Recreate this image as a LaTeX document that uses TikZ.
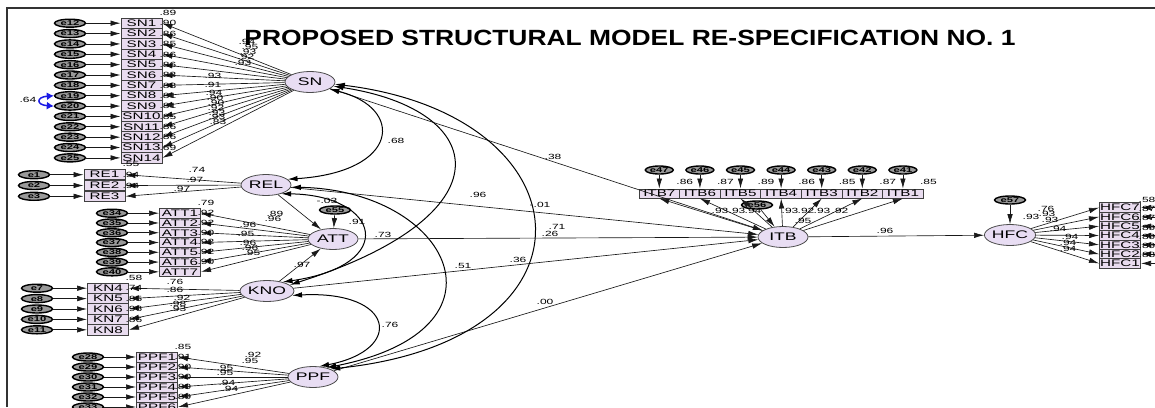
\documentclass[tikz,border=0pt]{standalone}
\usepackage{fontspec}
\setmainfont{Liberation Sans}
\newfontfamily\amosfont[FakeStretch=1.6]{Liberation Sans}
\newfontfamily\titlefont[FakeStretch=1.2]{Liberation Sans}
\usepackage{tikz}
\usetikzlibrary{arrows.meta,positioning,shapes.geometric}
\definecolor{boxfill}{HTML}{E9DCEF}
\definecolor{latfill}{HTML}{E8DDF3}
\definecolor{covblue}{HTML}{1A1AE6}

\begin{document}
\begin{tikzpicture}[x=1pt,y=-1pt,>={Latex[length=10pt,width=5.5pt]},
 ind/.style={draw=black!75,line width=1pt,fill=boxfill,minimum width=41pt,minimum height=10.4pt,inner sep=0pt,font=\amosfont\fontsize{9.5}{9.5}\selectfont},
 lat/.style={ellipse,draw=black!70,line width=0.8pt,fill=latfill,minimum width=50pt,minimum height=21pt,inner sep=0pt,font=\amosfont\fontsize{11}{11}\selectfont},
 err/.style={ellipse,draw=black,line width=1.4pt,fill=black!40,minimum width=31pt,minimum height=8pt,inner sep=0pt,font=\amosfont\bfseries\fontsize{7}{7}\selectfont},
 reg/.style={->,line width=0.65pt,black!90},
 cov/.style={<->,line width=1pt},
 val/.style={font=\amosfont\fontsize{7.5}{7.5}\selectfont,inner sep=0pt}]
\useasboundingbox (0,0) rectangle (1155,407);
\fill[white] (0,0) rectangle (1155,407);
% frame and title
\draw[line width=1.3pt,black!80] (7,407) -- (7,8) -- (1155,8);
\node[font=\titlefont\bfseries\fontsize{22}{22}\selectfont] (title) at (630,38) {PROPOSED STRUCTURAL MODEL RE-SPECIFICATION NO. 1};

% latent variables
\node[lat] (SN) at (310,82) {SN};
\node[lat] (REL) at (266,185) {REL};
\node[lat] (ATT) at (333,239) {ATT};
\node[lat] (KNO) at (267,291) {KNO};
\node[lat] (PPF) at (313,377) {PPF};
\node[lat] (ITB) at (783,237) {ITB};
\node[lat] (HFC) at (1010,235) {HFC};
\node[err] (e55) at (335,210) {e55};
\node[err] (e56) at (757,205) {e56};
\node[err] (e57) at (1010,200) {e57};

% SN indicators
\foreach \i/\e/\l/\r/\lx/\ly in {1/12/.94/.89/247/42,2/13/.95/.90/250/47,3/14/.93/.86/248/52,4/15/.92/.85/246/57,5/16/.93/.86/243/63,6/17/.93/.86/213/76,7/18/.91/.83/213/85,8/19/.94/.88/214/93,9/20/.90/.81/215/98,10/21/.90/.81/216/103,11/22/.92/.85/216/108,12/23/.93/.86/217/113,13/24/.93/.86/217/117,14/25/.83/.69/218/122}{
 \pgfmathsetmacro{\yy}{23.2+(\i-1)*10.36}
 \node[ind] (sn\i) at (141.5,\yy) {SN\i};
 \node[err] (e\e) at (70,\yy) {e\e};
 \draw[reg] (e\e) -- (sn\i);
 \draw[reg] (SN) -- (sn\i.east);
 \node[val] (lsn\i) at (\lx,\ly) {\l};
 \node[val] (rsn\i) at (168,{\yy-10.2}) {\r};
}
\draw[covblue,line width=1.5pt,{Latex[length=7pt,width=8pt]}-{Latex[length=7pt,width=8pt]}] (e19.west) .. controls (36,97) and (36,105) .. (e20.west);
\node[val] (c1920) at (28,100) {.64};

% REL indicators
\foreach \i/\l/\r/\lx/\ly in {1/.74/.55/197/170,2/.97/.94/195/180,3/.97/.94/182/189}{
 \pgfmathsetmacro{\yy}{174.7+(\i-1)*10.8}
 \node[ind] (re\i) at (104.5,\yy) {RE\i};
 \node[err] (e\i) at (34,\yy) {e\i};
 \draw[reg] (e\i) -- (re\i);
 \draw[reg] (REL) -- (re\i.east);
 \node[val] (lre\i) at (\lx,\ly) {\l};
 \node[val] (rre\i) at (131,{\yy-10.4}) {\r};
}

% ATT indicators
\foreach \i/\e/\l/\r/\lx/\ly in {1/34/.89/.79/275/214,2/35/.96/.92/273/219,3/36/.96/.92/248/225,4/37/.95/.90/246/234,5/38/.96/.92/248/243,6/39/.96/.92/250/248,7/40/.95/.90/252/253}{
 \pgfmathsetmacro{\yy}{213.2+(\i-1)*9.77}
 \node[ind,minimum height=9.8pt] (att\i) at (180,\yy) {ATT\i};
 \node[err] (e\e) at (112,\yy) {e\e};
 \draw[reg] (e\e) -- (att\i);
 \draw[reg] (ATT) -- (att\i.east);
 \node[val] (latt\i) at (\lx,\ly) {\l};
 \node[val] (ratt\i) at (206,{\yy-10}) {\r};
}

% KNO indicators
\foreach \i/\e/\l/\r/\lx/\ly in {4/7/.76/.58/175/282,5/8/.86/.74/175/290,6/9/.92/.85/182/298,7/10/.98/.96/178/304,8/11/.93/.86/178/309}{
 \pgfmathsetmacro{\yy}{288.2+(\i-4)*10.4}
 \node[ind] (kn\i) at (108,\yy) {KN\i};
 \node[err] (e\e) at (37,\yy) {e\e};
 \draw[reg] (e\e) -- (kn\i);
 \draw[reg] (KNO) -- (kn\i.east);
 \node[val] (lkn\i) at (\lx,\ly) {\l};
 \node[val] (rkn\i) at (134,{\yy-10.2}) {\r};
}

% PPF indicators
\foreach \i/\e/\l/\r/\lx/\ly in {1/28/.92/.85/253/355,2/29/.95/.91/250/361,3/30/.95/.90/225/368,4/31/.95/.90/225/373,5/32/.94/.89/227/383,6/33/.94/.89/230/389}{
 \pgfmathsetmacro{\yy}{357+(\i-1)*10}
 \node[ind,minimum height=10pt] (ppf\i) at (157,\yy) {PPF\i};
 \node[err] (e\e) at (88,\yy) {e\e};
 \draw[reg] (e\e) -- (ppf\i);
 \draw[reg] (PPF) -- (ppf\i.east);
 \node[val] (lppf\i) at (\lx,\ly) {\l};
 \node[val] (rppf\i) at (183,{\yy-10}) {\r};
}

% ITB indicators
\foreach \n/\e/\l/\r/\lx in {7/47/.93/.86/720,6/46/.93/.87/737,5/45/.94/.89/753,4/44/.93/.86/790,3/43/.92/.85/806,2/42/.93/.87/822,1/41/.92/.85/840}{
 \pgfmathsetmacro{\xx}{659.3+(7-\n)*40.6}
 \node[ind,minimum width=40.6pt,minimum height=9pt] (itb\n) at (\xx,193.5) {ITB\n};
 \node[err,minimum width=28pt] (e\e) at (\xx,170) {e\e};
 \draw[reg] (e\e) -- (itb\n);
 \draw[reg] (ITB) -- (itb\n.south);
 \node[val] (litb\n) at (\lx,211) {\l};
 \node[val] (ritb\n) at ({\xx+25.5},182) {\r};
}

% HFC indicators
\foreach \n/\e/\l/\r/\lx/\ly in {7/54/.76/.58/1046/209,6/53/.93/.87/1047/214,5/52/.93/.87/1050/220,4/51/.94/.89/1058/229,3/50/.94/.89/1070/237,2/49/.94/.89/1068/243,1/48/.94/.88/1068/249}{
 \pgfmathsetmacro{\yy}{207.6+(7-\n)*9.3}
 \node[ind,minimum height=9.3pt] (hfc\n) at (1120,\yy) {HFC\n};
 \node[err] (e\e) at (1190,\yy) {e\e};
 \draw[reg] (e\e) -- (hfc\n);
 \draw[reg] (HFC) -- (hfc\n.west);
 \node[val] (lhfc\n) at (\lx,\ly) {\l};
 \node[val] (rhfc\n) at (1147,{\yy-8}) {\r};
}

% disturbances
\draw[reg] (e55) -- (ATT);
\draw[reg] (e56) -- (ITB);
\draw[reg] (e57) -- (HFC);

% structural paths
\draw[reg] (REL) -- (ATT);
\draw[reg] (KNO) -- (ATT);
\draw[reg] (SN) -- (ITB);
\draw[reg] (REL) -- (ITB);
\draw[reg] (ATT) -- (ITB);
\draw[reg] (KNO) -- (ITB);
\draw[reg] (PPF) -- (ITB);
\draw[reg] (ITB) -- (HFC);

% covariances
\draw[cov] (SN.-20) .. controls (405,108) and (400,172) .. (REL.15);
\draw[cov] (SN.-10) .. controls (490,110) and (510,215) .. (KNO.15);
\draw[cov] (SN.-5) .. controls (590,115) and (610,340) .. (PPF.25);
\draw[cov] (REL.-5) .. controls (450,190) and (520,330) .. (PPF.35);
\draw[cov] (REL.-30) .. controls (380,195) and (400,265) .. (KNO.30);
\draw[cov] (KNO.-10) .. controls (395,290) and (405,350) .. (PPF.60);

% estimates
\node[val] (vsnrel) at (396,141) {.68};
\node[val] (vsnkno) at (478,195) {.96};
\node[val] (vsnitb) at (553,157) {.38};
\node[val] (vrelitb) at (540,205) {-.01};
\node[val] (vrelkno) at (327,201) {-.03};
\node[val] (vatt) at (357,222) {.91};
\node[val] (vattitb) at (383,235) {.73};
\node[val] (vknoatt) at (302,265) {.97};
\node[val] (vsnppf) at (557,227) {.71};
\node[val] (vx) at (550,234) {.26};
\node[val] (vrelppf) at (463,266) {.51};
\node[val] (vknoitb) at (518,260) {.36};
\node[val] (vppfitb) at (545,302) {.00};
\node[val] (vknoppf) at (390,325) {.76};
\node[val] (vitb) at (803,221) {.95};
\node[val] (vitbhfc) at (885,231) {.96};
\node[val] (vhfc) at (1031,217) {.93};
\end{tikzpicture}
\end{document}
